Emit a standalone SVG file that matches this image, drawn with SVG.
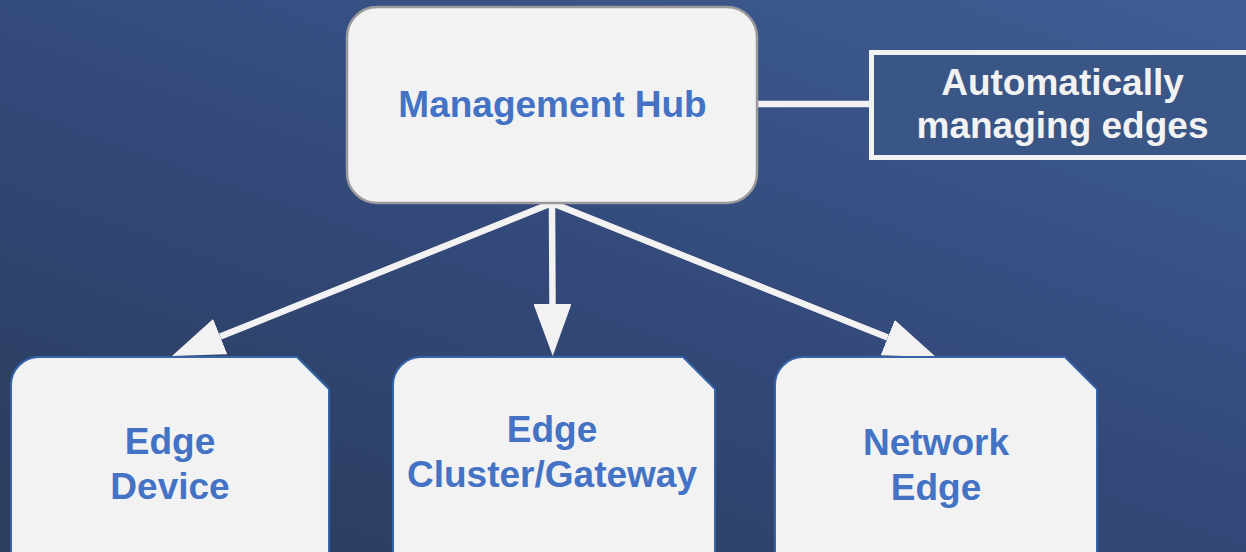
<svg xmlns="http://www.w3.org/2000/svg" width="1246" height="552" viewBox="0 0 1246 552">
  <defs>
    <linearGradient id="bg" x1="1" y1="0" x2="0.2" y2="1">
      <stop offset="0" stop-color="#3f5e95"/>
      <stop offset="0.55" stop-color="#33497a"/>
      <stop offset="1" stop-color="#2b3e60"/>
    </linearGradient>
    <marker id="head" viewBox="0 0 52 38" refX="0" refY="19" markerWidth="52" markerHeight="38" markerUnits="userSpaceOnUse" orient="auto">
      <path d="M0,0 L52,19 L0,38 Z" fill="#f2f2f2"/>
    </marker>
    <style>
      .node { fill: #f2f2f2; stroke: #3564a8; stroke-width: 2; }
      .hub { fill: #f2f2f2; stroke: #9a9a9a; stroke-width: 2.5; }
      .lbl { font-family: "Liberation Sans", Arial, sans-serif; font-weight: bold; font-size: 37px; fill: #4472c4; text-anchor: middle; }
      .note { font-family: "Liberation Sans", Arial, sans-serif; font-weight: bold; font-size: 37px; fill: #f2f2f2; text-anchor: middle; }
      .conn { stroke: #f2f2f2; stroke-width: 6.5; fill: none; }
    </style>
  </defs>
  <rect x="0" y="0" width="1246" height="552" fill="url(#bg)"/>

  <g id="connectors">
    <line class="conn" x1="757" y1="104" x2="870" y2="104"/>
    <line class="conn" x1="552" y1="203" x2="220.2" y2="336.6" marker-end="url(#head)"/>
    <line class="conn" x1="552" y1="203" x2="552.5" y2="304" marker-end="url(#head)"/>
    <line class="conn" x1="552" y1="203" x2="887.7" y2="337.6" marker-end="url(#head)"/>
  </g>

  <g id="hub">
    <rect class="hub" x="347" y="7" width="410" height="196" rx="30" ry="30"/>
    <text class="lbl" x="552.5" y="117">Management Hub</text>
  </g>

  <g id="note">
    <rect x="871.5" y="52.5" width="420" height="105" fill="#3a5687" stroke="#f2f2f2" stroke-width="5"/>
    <text class="note" x="1062.5" y="95">Automatically</text>
    <text class="note" x="1062.5" y="138">managing edges</text>
  </g>

  <g id="edge-device">
    <path class="node" d="M11,560 V385 A28,28 0 0 1 39,357 H297 L329,389 V560 Z"/>
    <text class="lbl" x="170" y="454">Edge</text>
    <text class="lbl" x="170" y="499">Device</text>
  </g>

  <g id="edge-cluster">
    <path class="node" d="M393,560 V385 A28,28 0 0 1 421,357 H683 L715,389 V560 Z"/>
    <text class="lbl" x="552" y="442">Edge</text>
    <text class="lbl" x="552" y="487">Cluster/Gateway</text>
  </g>

  <g id="network-edge">
    <path class="node" d="M775,560 V385 A28,28 0 0 1 803,357 H1065 L1097,389 V560 Z"/>
    <text class="lbl" x="936" y="455">Network</text>
    <text class="lbl" x="936" y="500">Edge</text>
  </g>
</svg>
